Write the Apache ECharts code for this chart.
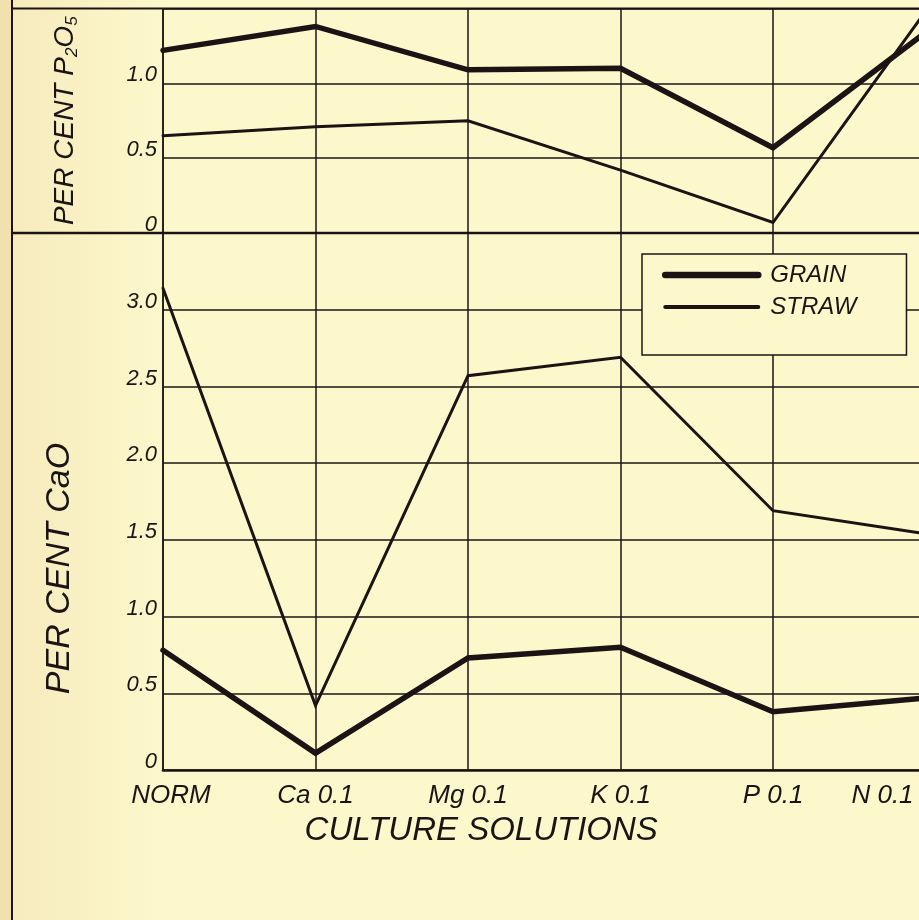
<!DOCTYPE html>
<html><head><meta charset="utf-8">
<script src="https://cdn.jsdelivr.net/npm/echarts@6/dist/echarts.min.js"></script>
<style>html,body{margin:0;padding:0;background:#fcf8cc;overflow:hidden;width:919px;height:920px}#c{width:932px;height:920px}</style>
</head><body><div id="c"></div>
<script>
// ---- data ----
const categories = ['NORM', 'Ca 0.1', 'Mg 0.1', 'K 0.1', 'P 0.1', 'N 0.1'];
const p2o5Grain = [1.22, 1.38, 1.09, 1.10, 0.57, 1.34];
const p2o5Straw = [0.65, 0.71, 0.75, 0.42, 0.07, 1.48];
const caoGrain  = [0.78, 0.11, 0.73, 0.80, 0.38, 0.47];
const caoStraw  = [3.14, 0.42, 2.57, 2.69, 1.69, 1.54];
const p2o5Axis = { min: 0, max: 1.5, interval: 0.5 };
const caoAxis  = { min: 0, max: 3.5, interval: 0.5 };
const seriesNames = ['GRAIN', 'STRAW'];
const xTitle = 'CULTURE SOLUTIONS';
const yTitleTop = 'PER CENT P{s|2}O{s|5}';
const yTitleBottom = 'PER CENT CaO';

// ---- style ----
const INK = '#1c1414';
const BG = '#fcf8cc';
const FONT = "'Liberation Sans', Arial, sans-serif";
const GRID_LINE = { color: INK, width: 1.5 };
const GRAIN_W = 5.5, STRAW_W = 3;
const tickFmt = v => (v === 0 ? '0' : v.toFixed(1));
// per-label horizontal nudges (hand-lettered labels are not exactly centred)
const labelPads = { 'NORM': [0, 0, 0, 16], 'N 0.1': [0, 86, 0, 0] };

const chart = echarts.init(document.getElementById('c'), null, { renderer: 'canvas' });

function yAxisCommon(ax, gridIndex, name, nameGap, namePad, nameSize) {
  return {
    type: 'value', gridIndex, min: ax.min, max: ax.max, interval: ax.interval,
    name, nameLocation: 'middle', nameGap, nameRotate: 90,
    nameTextStyle: {
      fontFamily: FONT, fontStyle: 'italic', fontSize: nameSize, color: INK,
      padding: namePad,
      rich: { s: { fontFamily: FONT, fontStyle: 'italic', fontSize: 17, color: INK, padding: [14, 0, 0, 0] } }
    },
    axisLine: { show: true, lineStyle: GRID_LINE },
    axisTick: { show: false },
    splitLine: { show: true, lineStyle: GRID_LINE },
    axisLabel: {
      showMaxLabel: false, formatter: tickFmt, margin: 6,
      verticalAlign: 'bottom', lineHeight: 16,
      fontFamily: FONT, fontStyle: 'italic', fontSize: 22, color: INK
    }
  };
}

const xData = categories.map(c => labelPads[c] ? { value: c, textStyle: { padding: labelPads[c] } } : c);

const option = {
  backgroundColor: 'transparent',
  animation: false,
  grid: [
    { left: 163, top: 8.5, right: 6.5, height: 224.5 },
    { left: 163, top: 233, right: 6.5, height: 537 }
  ],
  xAxis: [
    {
      type: 'category', gridIndex: 0, data: categories, boundaryGap: false,
      axisLine: { show: false }, axisTick: { show: false }, axisLabel: { show: false },
      splitLine: { show: true, interval: 0, lineStyle: GRID_LINE }
    },
    {
      type: 'category', gridIndex: 1, data: xData, boundaryGap: false,
      axisLine: { show: true, lineStyle: { color: INK, width: 2.5 } },
      axisTick: { show: false },
      splitLine: { show: true, interval: 0, lineStyle: GRID_LINE },
      axisLabel: { interval: 0, margin: 13, fontFamily: FONT, fontStyle: 'italic', fontSize: 26, color: INK },
      name: xTitle, nameLocation: 'middle', nameGap: 29,
      nameTextStyle: { fontFamily: FONT, fontStyle: 'italic', fontSize: 33, color: INK, padding: [0, 126, 0, 0] }
    }
  ],
  yAxis: [
    yAxisCommon(p2o5Axis, 0, yTitleTop, 82, [0, 0, 0, 0], 28),
    yAxisCommon(caoAxis, 1, yTitleBottom, 86, [0, 134, 0, 0], 34)
  ],
  legend: {
    left: 642, top: 254, orient: 'vertical',
    data: [
      { name: seriesNames[0], lineStyle: { width: GRAIN_W + 1, color: INK, cap: 'round' } },
      { name: seriesNames[1], lineStyle: { width: STRAW_W + 1, color: INK, cap: 'round' } }
    ],
    itemWidth: 93, itemHeight: 14, itemGap: 8,
    padding: [9, 50, 36, 20],
    backgroundColor: BG, borderColor: INK, borderWidth: 1.5,
    itemStyle: { opacity: 0 },
    selectedMode: false,
    textStyle: { fontFamily: FONT, fontStyle: 'italic', fontSize: 24, color: INK, padding: [0, 0, 0, 7] }
  },
  series: [
    { name: seriesNames[0], type: 'line', xAxisIndex: 0, yAxisIndex: 0, data: p2o5Grain, symbol: 'none',
      lineStyle: { color: INK, width: GRAIN_W, cap: 'round', join: 'miter' }, itemStyle: { color: INK } },
    { name: seriesNames[1], type: 'line', xAxisIndex: 0, yAxisIndex: 0, data: p2o5Straw, symbol: 'none',
      lineStyle: { color: INK, width: STRAW_W, cap: 'round', join: 'miter' }, itemStyle: { color: INK } },
    { name: seriesNames[0], type: 'line', xAxisIndex: 1, yAxisIndex: 1, data: caoGrain, symbol: 'none',
      lineStyle: { color: INK, width: GRAIN_W, cap: 'round', join: 'miter' }, itemStyle: { color: INK } },
    { name: seriesNames[1], type: 'line', xAxisIndex: 1, yAxisIndex: 1, data: caoStraw, symbol: 'none',
      lineStyle: { color: INK, width: STRAW_W, cap: 'round', join: 'miter' }, itemStyle: { color: INK } }
  ],
  graphic: [
    { type: 'rect', z: -10, silent: true, shape: { x: 0, y: 0, width: 12, height: 920 }, style: { fill: '#f0e1ae' } },
    { type: 'rect', z: -9, silent: true, shape: { x: 12, y: 0, width: 151, height: 920 },
      style: { fill: new echarts.graphic.LinearGradient(0, 0, 1, 0, [{ offset: 0, color: '#f6ebbd' }, { offset: 1, color: BG }]) } },
    { type: 'line', z: 10, silent: true, shape: { x1: 12, y1: 0, x2: 12, y2: 920 }, style: { stroke: INK, lineWidth: 2 } },
    { type: 'line', z: 10, silent: true, shape: { x1: 12, y1: 8.5, x2: 932, y2: 8.5 }, style: { stroke: INK, lineWidth: 2 } },
    { type: 'line', z: 10, silent: true, shape: { x1: 12, y1: 233, x2: 932, y2: 233 }, style: { stroke: INK, lineWidth: 2.5 } }
  ]
};
chart.setOption(option);
</script></body></html>
